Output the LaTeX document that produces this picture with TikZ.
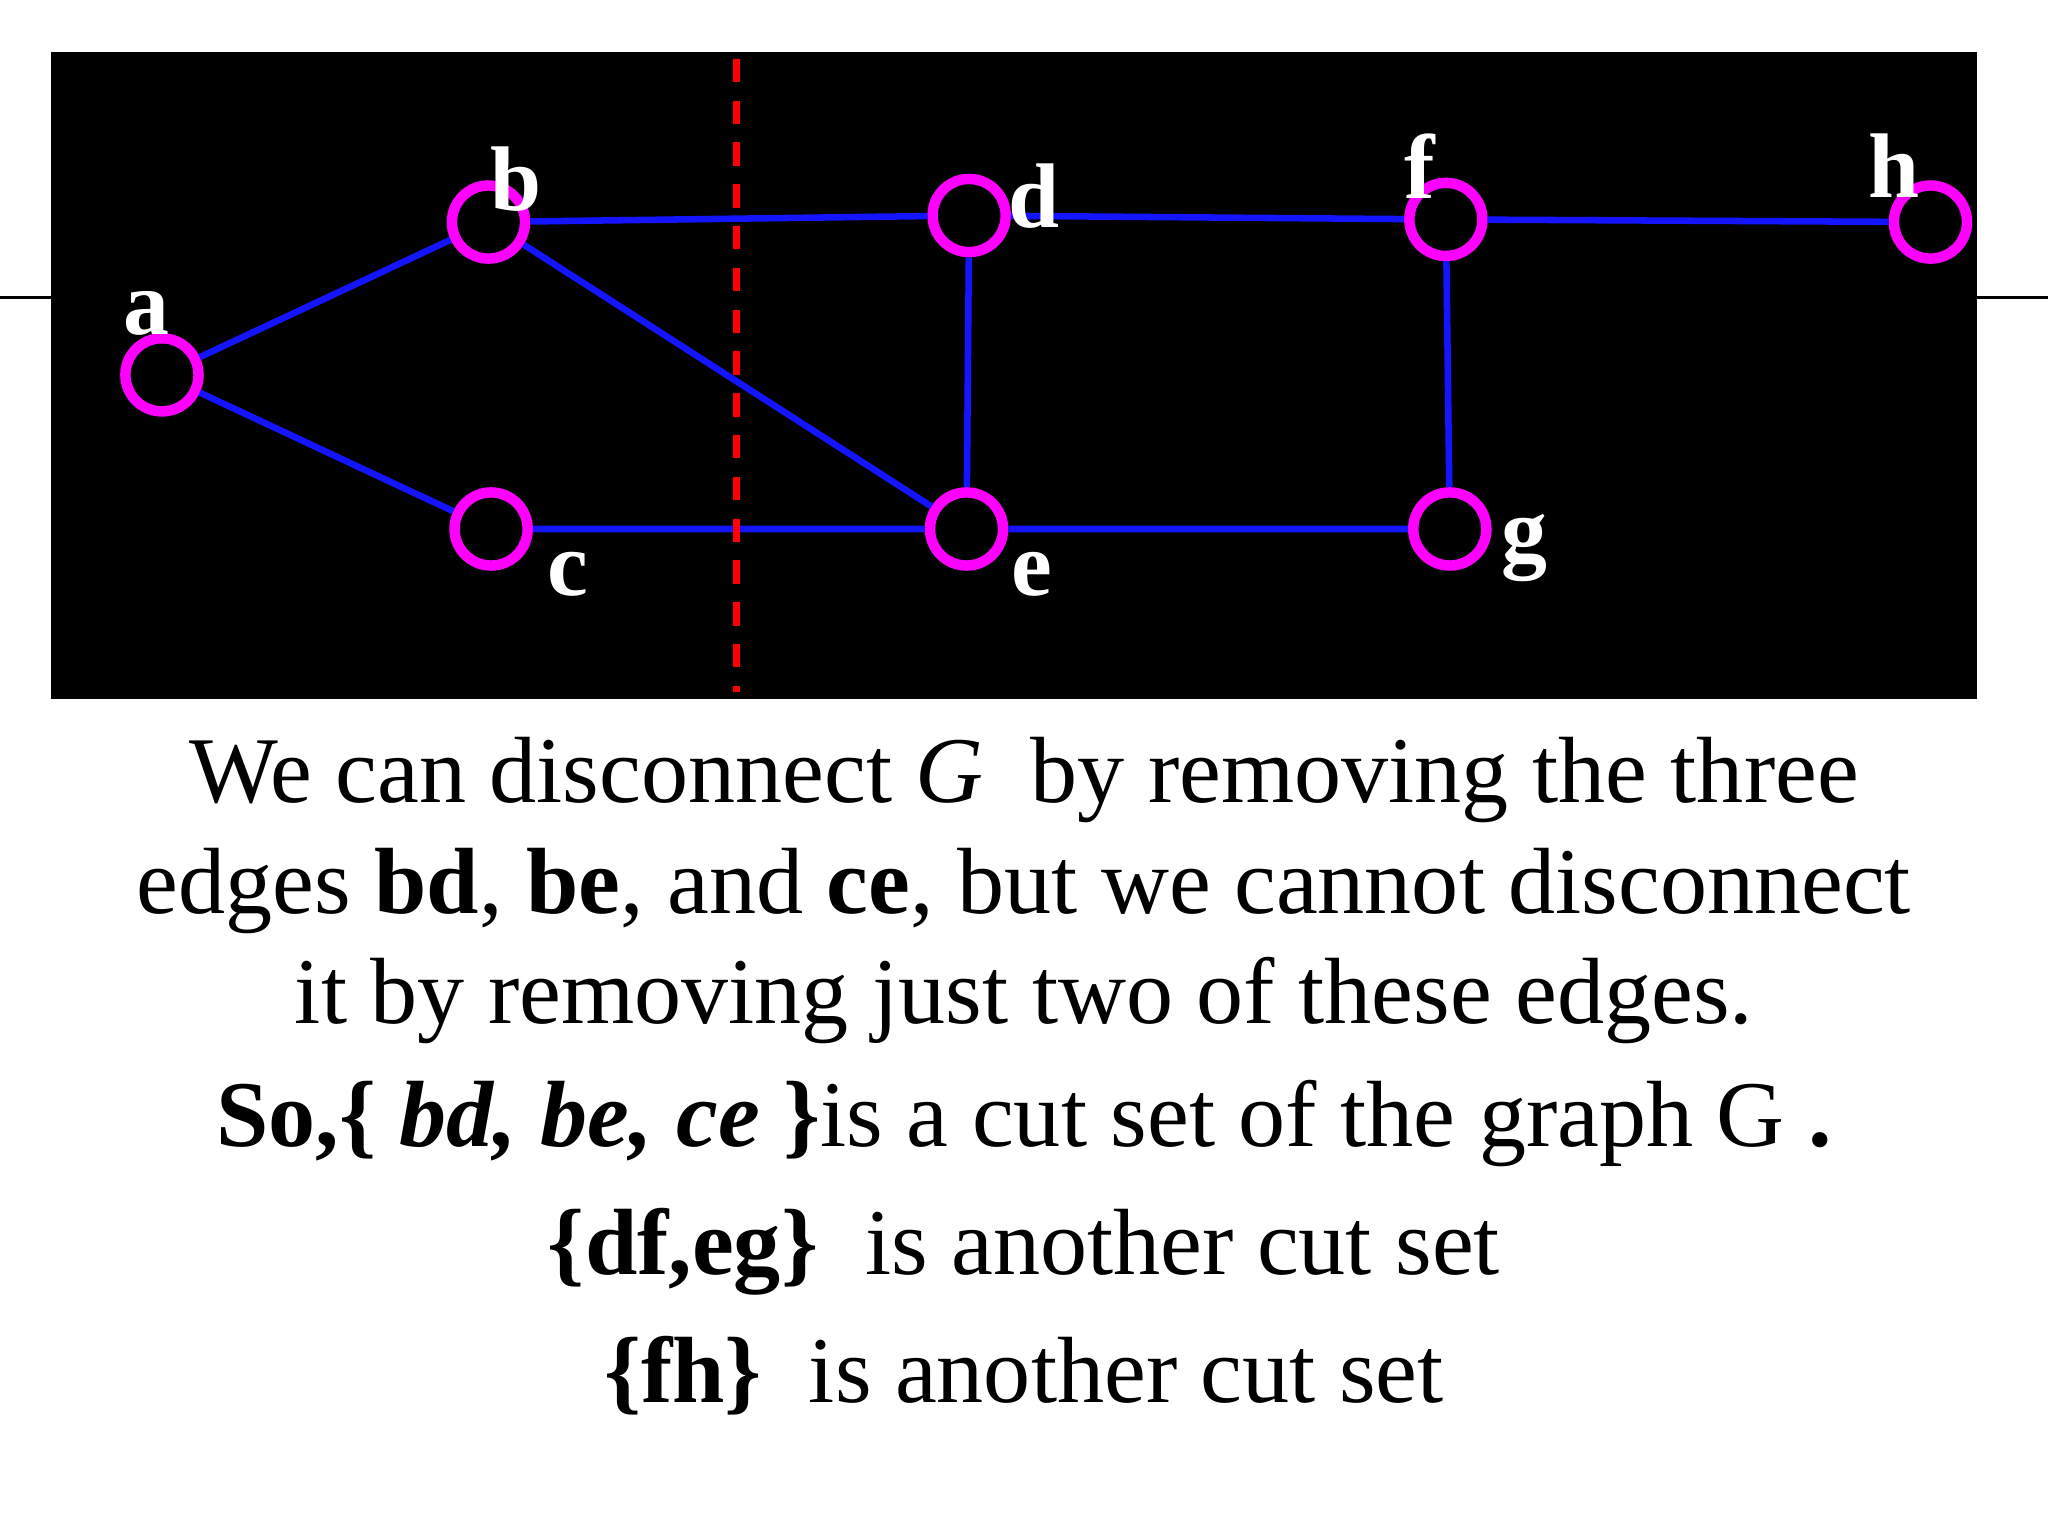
\documentclass[tikz,border=0pt]{standalone}
\usepackage{fontspec}
\setmainfont{Liberation Serif}
\begin{document}
\begin{tikzpicture}[x=0.02cm,y=-0.02cm,
  vtx/.style={circle,draw={rgb,255:red,255;green,0;blue,255},line width=8*0.02cm,minimum size=56*0.02cm,inner sep=0pt},
  edg/.style={draw={rgb,255:red,20;green,20;blue,255},line width=5*0.02cm},
  lbl/.style={text=white,font=\fontsize{40}{40}\selectfont\bfseries,inner sep=0pt},
  txt/.style={font=\fontsize{41}{48}\selectfont,inner sep=0pt}]
\useasboundingbox (0,0) rectangle (1568,1176);
\fill[white] (0,0) rectangle (1568,1176);
\fill[black] (39,40) rectangle (1514,535);
\draw[line width=2*0.02cm] (0,228) -- (39,228) (1514,228) -- (1568,228);
\node[vtx] (a) at (124,287) {};
\node[vtx] (b) at (374,170) {};
\node[vtx] (c) at (376,405) {};
\node[vtx] (d) at (742,165) {};
\node[vtx] (e) at (740,405) {};
\node[vtx] (f) at (1107,168) {};
\node[vtx] (g) at (1110,405) {};
\node[vtx] (h) at (1478,170) {};
\draw[edg] (a)--(b) (a)--(c) (b)--(d) (b)--(e) (c)--(e) (d)--(e) (d)--(f) (e)--(g) (f)--(g) (f)--(h);
\coordinate (cut1) at (564,45);
\coordinate (cut2) at (564,530);
\draw[red,line width=5*0.02cm,dash pattern=on 18*0.02cm off 14*0.02cm] (cut1)--(cut2);
\node[lbl] (la) at (112,240) {a};
\node[lbl] (lb) at (395,137) {b};
\node[lbl] (lc) at (435,440) {c};
\node[lbl] (ld) at (792,150) {d};
\node[lbl] (le) at (790,440) {e};
\node[lbl] (lf) at (1087,127) {f};
\node[lbl] (lg) at (1167,420) {g};
\node[lbl] (lh) at (1450,127) {h};
\node[txt] (t1) at (784,597) {We can disconnect \textit{G}\enspace by removing the three};
\node[txt] (t2) at (784,682) {edges \textbf{bd}, \textbf{be}, and \textbf{ce}, but we cannot disconnect};
\node[txt] (t3) at (784,766) {it by removing just two of these edges.};
\node[txt] (t4) at (784,860) {\textbf{So,\{ \textit{bd, be, ce} \}}is a cut set of the graph G \textbf{.}};
\node[txt] (t5) at (784,958) {\textbf{\{df,eg\}}\enspace is another cut set};
\node[txt] (t6) at (784,1053) {\textbf{\{fh\}}\enspace is another cut set};
\end{tikzpicture}
\end{document}
